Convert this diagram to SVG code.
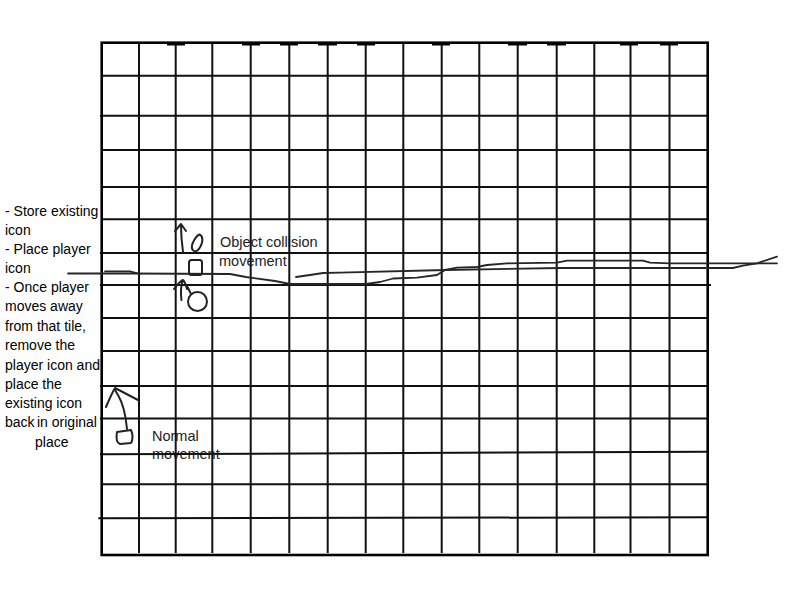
<svg xmlns="http://www.w3.org/2000/svg" width="800" height="600" viewBox="0 0 800 600">
<style>
.bg{fill:#ffffff}
.g{stroke:#111;stroke-width:2;fill:none}
.b{stroke:#000;stroke-width:2.6;fill:none}
.tb{stroke:#000;stroke-width:3.5;fill:none}
.hand{stroke:#262626;stroke-width:1.8;fill:none;stroke-linejoin:round;stroke-linecap:round}
.pen{stroke:#222;stroke-width:2;fill:none;stroke-linejoin:round;stroke-linecap:round}
.t{font-family:"Liberation Sans",Arial,sans-serif;font-size:14px;fill:#000}
.lbl{font-family:"Liberation Sans",Arial,sans-serif;font-size:14.5px;fill:#222}
</style>
<rect class="bg" x="0" y="0" width="800" height="600"/>

<g id="notes">
<text class="t" x="5" y="216">- Store existing</text>
<text class="t" x="5" y="235">icon</text>
<text class="t" x="5" y="254">- Place player</text>
<text class="t" x="5" y="273">icon</text>
<text class="t" x="5" y="292">- Once player</text>
<text class="t" x="5" y="311">moves away</text>
<text class="t" x="5" y="331">from that tile,</text>
<text class="t" x="5" y="350">remove the</text>
<text class="t" x="5" y="369.5">player icon and</text>
<text class="t" x="5" y="389">place the</text>
<text class="t" x="5" y="408">existing icon</text>
<text class="t" x="5" y="427">back</text>
<text class="t" x="37" y="427">in original</text>
<text class="t" x="35" y="447">place</text>
</g>

<g id="label-object-collision">
<text class="lbl" x="220" y="247">Object collision</text>
<text class="lbl" x="219" y="265.5">movement</text>
</g>

<g id="label-normal">
<text class="lbl" x="152" y="440.5">Normal</text>
<text class="lbl" x="152" y="458.5">movement</text>
</g>

<g id="grid">
<path class="g" d="M139,43V553 M175.7,43V553 M212.3,43V553 M250.7,43V553 M289.3,43V553 M327.7,43V553 M365.7,43V553 M403.3,43V553 M441.7,43V553 M479.3,43V553 M517.7,43V553 M556.7,43V553 M594.3,43V553 M630.5,43V553 M669.5,43V553"/>
<path class="g" d="M102,75.7H708 M100,115.7H708 M102,150H708 M102,187H708 M102,219.3H708 M100,253H708 M100,285H711 M102,318H708 M102,351H708 M100,386H708 M100,418.5H708 M100,454.3L708,451.7 M101.7,484.3H708 M98.3,518.3L708,517.3"/>
<rect class="b" x="101.7" y="42.7" width="606" height="512.3"/>
<path class="tb" d="M167,43.8H185 M242,43.8H260 M280,43.8H298 M318,43.8H337 M357,43.8H375 M432,43.8H450 M508,43.8H527 M547,43.8H566 M620,43.8H638 M660,43.8H678"/>
</g>

<g id="boundary-lines">
<path class="hand" d="M68,273.5 L130,273.5 L230,274 L246,277 L275,281 L290,284 L366,284 L380,282 L393,278.5 L417,277.7 L437,275 L445,270 L457,267.7 L477,267 L487,265 L507,263.3 L557,262.7 L567,260.7 L643,260.7 L650,262.7 L670,263.3 L777,263.3"/>
<path class="hand" d="M105,271.3 L130,271.3 L140,274"/>
<path class="hand" d="M296,277 L310,275 L323,273 L340,272.7 L446,270 L560,268 L733,268 L743,265.7 L757,263.3 L777,256.7"/>
</g>

<g id="icon-leaf">
<path class="pen" d="M199.5,234.5 C204,236.5 203,245 197.5,250.5 C193.5,253 190.5,249 192.5,243.5 C194.5,239 196.5,235.5 199.5,234.5 Z"/>
</g>
<g id="icon-player-top">
<rect class="pen" x="189" y="260" width="13" height="15" rx="2.5"/>
</g>
<g id="icon-circle">
<circle class="pen" cx="197.5" cy="301.5" r="9.5"/>
</g>
<g id="icon-player-normal">
<path class="pen" d="M117,432 L131,430 C133,434 133,440 131,443 L120,444 C117,443 116,438 117,432 Z"/>
</g>

<g id="connectors">
<path class="pen" d="M183,252 C182,245 181,236 181,225 M175,231 L181,224 L186,231"/>
<path class="pen" d="M181.5,300 C180.5,293 181,286 182.5,281 M174,289 C177,285 180,281 183,280 C185,282 186,285 187,289 M191,294 C189,290 188,287 186,285"/>
<path class="pen" d="M127,429 C126,418 124,405 118,395 C116,392 115,390 115,389 M106,407 C109,400 112,393 115,388 L138,400"/>
</g>
</svg>
